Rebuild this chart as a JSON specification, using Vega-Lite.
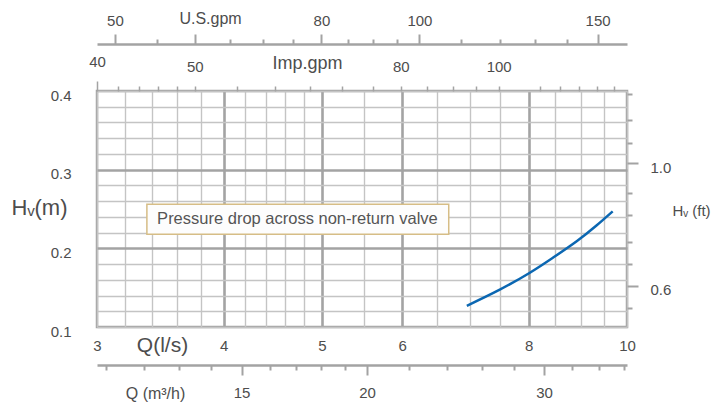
{
  "$schema": "https://vega.github.io/schema/vega-lite/v6.json",
  "width": 530,
  "height": 236,
  "autosize": "none",
  "padding": {"left": 97, "top": 91, "right": 90, "bottom": 77},
  "background": "white",
  "config": {
    "view": {"stroke": "#a3a3a3", "strokeWidth": 2.5},
    "font": "Liberation Sans",
    "axis": {"labelColor": "#4d4d4d", "titleColor": "#4d4d4d", "labelFont": "Liberation Sans", "titleFont": "Liberation Sans", "titleFontWeight": "normal", "labelFontSize": 15, "tickCount": 100, "labelOverlap": false}
  },
  "layer": [
    {
      "data": {"values": [
        {"Q": 6.95, "Hv": 0.127},
        {"Q": 7.49, "Hv": 0.1475},
        {"Q": 8.02, "Hv": 0.169},
        {"Q": 8.45, "Hv": 0.188},
        {"Q": 8.92, "Hv": 0.209},
        {"Q": 9.33, "Hv": 0.229},
        {"Q": 9.68, "Hv": 0.247}
      ]},
      "layer": [
        {
          "mark": {"type": "line", "color": "#0b67b2", "strokeWidth": 2.5, "interpolate": "natural"},
          "encoding": {
            "x": {"field": "Q", "type": "quantitative",
              "scale": {"type": "log", "domain": [3, 10], "nice": false},
              "axis": {"orient": "bottom", "values": [3, 3.2, 3.4, 3.6, 3.8, 4, 4.2, 4.4, 4.6, 4.8, 5, 5.5, 6, 6.5, 7, 7.5, 8, 8.5, 9, 9.5, 10],
                "tickCount": 100,
                "labelExpr": "indexof([3,4,5,6,8,10], datum.value) >= 0 ? format(datum.value, 'd') : ''",
                "ticks": false, "domain": false, "labelPadding": 18, "labelBaseline": "middle", "labelFlush": false,
                "grid": true,
                "gridColor": {"condition": {"test": "indexof([4,5,6,8], datum.value) >= 0", "value": "#a3a3a3"}, "value": "#c4c4c4"},
                "gridWidth": {"condition": {"test": "indexof([4,5,6,8], datum.value) >= 0", "value": 2.6}, "value": 1.4},
                "title": "Q(l/s)", "titleFontSize": 21, "titleX": 65, "titleY": 18, "titleAlign": "center", "titleBaseline": "middle", "titleAnchor": null}},
            "y": {"field": "Hv", "type": "quantitative",
              "scale": {"domain": [0.1, 0.4], "nice": false, "zero": false},
              "axis": {"orient": "left", "values": [0.1, 0.12, 0.14, 0.16, 0.18, 0.2, 0.22, 0.24, 0.26, 0.28, 0.3, 0.32, 0.34, 0.36, 0.38, 0.4],
                "tickCount": 100,
                "labelExpr": "indexof([0.1,0.2,0.3,0.4], datum.value) >= 0 ? format(datum.value, '.1f') : ''",
                "ticks": false, "domain": false, "labelPadding": 26, "labelOffset": 4,
                "grid": true,
                "gridColor": {"condition": {"test": "indexof([0.2,0.3], datum.value) >= 0", "value": "#a3a3a3"}, "value": "#c4c4c4"},
                "gridWidth": {"condition": {"test": "indexof([0.2,0.3], datum.value) >= 0", "value": 2.6}, "value": 1.4},
                "title": "Hᵥ(m)", "titleFontSize": 22, "titleAngle": 0, "titleX": -58, "titleY": 116, "titleAlign": "center", "titleBaseline": "middle", "titleAnchor": null}}
          }
        },
        {
          "data": {"values": [{"note": "Pressure drop across non-return valve"}]},
          "mark": {"type": "rect", "fill": "#fdfdfd", "stroke": "#d6bd86", "strokeWidth": 1.5},
          "encoding": {
            "x": {"datum": 3.36, "type": "quantitative"},
            "x2": {"datum": 6.67},
            "y": {"datum": 0.256, "type": "quantitative"},
            "y2": {"datum": 0.218}
          }
        },
        {
          "data": {"values": [{"note": "Pressure drop across non-return valve"}]},
          "mark": {"type": "text", "fontSize": 16.5, "color": "#555555", "align": "center", "baseline": "middle"},
          "encoding": {
            "x": {"datum": 4.73, "type": "quantitative"},
            "y": {"datum": 0.237, "type": "quantitative"},
            "text": {"field": "note"}
          }
        }
      ]
    },
    {
      "data": {"values": [{"usgpm": 100}]},
      "mark": {"type": "point", "opacity": 0},
      "encoding": {
        "x": {"field": "usgpm", "type": "quantitative",
          "scale": {"type": "log", "domain": [48, 160.4], "nice": false},
          "axis": {"orient": "top", "offset": 47, "values": [50, 55, 60, 65, 70, 75, 80, 85, 90, 95, 100, 110, 120, 130, 140, 150],
            "tickCount": 100,
            "labelExpr": "indexof([50,80,100,150], datum.value) >= 0 ? format(datum.value, 'd') : ''",
            "tickSize": {"condition": {"test": "indexof([50,60,80,100,150], datum.value) >= 0", "value": 10}, "value": 5},
            "tickColor": "#a3a3a3", "tickWidth": 2, "domainColor": "#a3a3a3", "domainWidth": 2.5, "grid": false,
            "labelPadding": 6, "labelFlush": false,
            "title": "U.S.gpm", "titleFontSize": 16, "titleX": 113, "titleY": -26, "titleAlign": "center", "titleBaseline": "middle", "titleAnchor": null}}
      }
    },
    {
      "data": {"values": [{"impgpm": 80}]},
      "mark": {"type": "point", "opacity": 0},
      "encoding": {
        "x": {"field": "impgpm", "type": "quantitative",
          "scale": {"type": "log", "domain": [40, 134], "nice": false},
          "axis": {"orient": "top", "offset": 0, "values": [40, 42, 44, 46, 48, 50, 55, 60, 65, 70, 75, 80, 85, 90, 95, 100, 110, 115, 120, 125, 130],
            "tickCount": 100,
            "labelExpr": "indexof([40,50,80,100], datum.value) >= 0 ? format(datum.value, 'd') : ''",
            "tickSize": {"condition": {"test": "datum.value == 40", "value": 10}, "value": 5},
            "tickColor": "#a3a3a3", "tickWidth": 1.5, "domain": false, "grid": false,
            "labelPadding": 12, "labelFlush": false,
            "title": "Imp.gpm", "titleFontSize": 18, "titleX": 210, "titleY": -28, "titleAlign": "center", "titleBaseline": "middle", "titleAnchor": null}}
      }
    },
    {
      "data": {"values": [{"m3h": 20}]},
      "mark": {"type": "point", "opacity": 0},
      "encoding": {
        "x": {"field": "m3h", "type": "quantitative",
          "scale": {"type": "log", "domain": [10.77, 36.28], "nice": false},
          "axis": {"orient": "bottom", "offset": 38, "values": [11, 12, 13, 14, 15, 16, 17, 18, 19, 20, 22, 24, 26, 28, 30, 32, 34, 36],
            "tickCount": 100,
            "labelExpr": "indexof([15,20,30], datum.value) >= 0 ? format(datum.value, 'd') : ''",
            "tickSize": {"condition": {"test": "indexof([15,20,30], datum.value) >= 0", "value": 10}, "value": 5},
            "tickColor": "#a3a3a3", "tickWidth": 2, "domainColor": "#a3a3a3", "domainWidth": 2.5, "grid": false,
            "labelPadding": 10, "labelFlush": false,
            "title": "Q (m³/h)", "titleFontSize": 16, "titleX": 58, "titleY": 28, "titleAlign": "center", "titleBaseline": "middle", "titleAnchor": null}}
      }
    },
    {
      "data": {"values": [{"ft": 0.8}]},
      "mark": {"type": "point", "opacity": 0},
      "encoding": {
        "y": {"field": "ft", "type": "quantitative",
          "scale": {"domain": [0.466, 1.236], "nice": false, "zero": false},
          "axis": {"orient": "right", "values": [0.527, 0.6, 0.671, 0.744, 0.831, 0.904, 1.0, 1.067, 1.143, 1.225],
            "tickCount": 100,
            "labelExpr": "datum.value == 1 ? '1.0' : (datum.value == 0.6 ? '0.6' : '')",
            "tickSize": {"condition": {"test": "datum.value == 1 || datum.value == 0.6", "value": 11}, "value": 5},
            "tickColor": "#a3a3a3", "tickWidth": 2, "domain": false, "grid": false,
            "labelPadding": 12, "labelOffset": 4,
            "title": "Hᵥ (ft)", "titleFontSize": 15, "titleAngle": 0, "titleX": 64, "titleY": 119, "titleAlign": "center", "titleBaseline": "middle", "titleAnchor": null}}
      }
    }
  ],
  "resolve": {"scale": {"x": "independent", "y": "independent"}}
}
